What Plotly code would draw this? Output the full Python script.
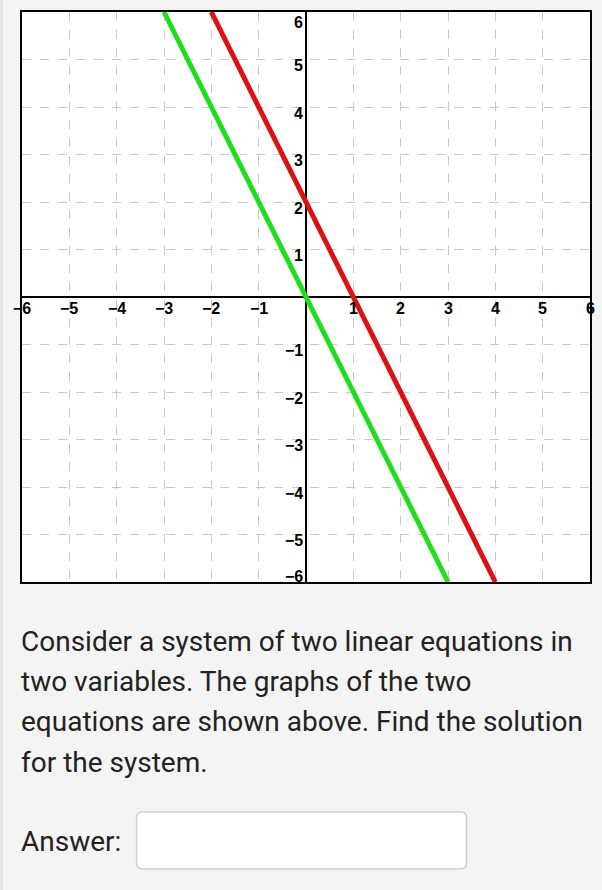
import plotly.graph_objects as go

# graph data (endpoints of each line on the grid edge)
red_x = [-2, 4]
red_y = [6, -6]
green_x = [-3, 3]
green_y = [6, -6]

tick_vals = [-6, -5, -4, -3, -2, -1, 1, 2, 3, 4, 5, 6]

question_lines = [
    "Consider a system of two linear equations in",
    "two variables. The graphs of the two",
    "equations are shown above. Find the solution",
    "for the system.",
]

W, H = 602, 890
L, R, T = 22, 10, 12
PW = W - L - R  # plot size in px (square)
B = H - T - PW


def px_x(px):
    # screen px -> paper coordinate
    return (px - L) / PW


def px_y(py):
    return (H - B - py) / PW


fig = go.Figure()
fig.add_trace(go.Scatter(x=green_x, y=green_y, mode="lines",
                         line=dict(color="#22dc22", width=5), showlegend=False))
fig.add_trace(go.Scatter(x=red_x, y=red_y, mode="lines",
                         line=dict(color="#da1212", width=5), showlegend=False))

tick_font = dict(family="Liberation Sans", size=16, color="black", weight="bold")
for v in tick_vals:
    lab = "\u2212" + str(-v) if v < 0 else str(v)
    # x axis labels under the x axis
    fig.add_annotation(x=v, y=0, text=lab, showarrow=False,
                       xanchor="center", yanchor="top", yshift=-1, font=tick_font)
    # y axis labels left of the y axis
    ys = -6
    if v == 6:
        ys = -10
    if v == -6:
        ys = 6
    fig.add_annotation(x=0, y=v, text=lab, showarrow=False,
                       xanchor="right", yanchor="middle",
                       xshift=-1, yshift=ys, font=tick_font)

line_centers = [641, 681, 721, 762]
for txt, cy in zip(question_lines, line_centers):
    fig.add_annotation(xref="paper", yref="paper", x=px_x(19), y=px_y(cy),
                       text=txt, showarrow=False, xanchor="left", yanchor="middle",
                       font=dict(family="Roboto", size=28, color="#222222"))
fig.add_annotation(xref="paper", yref="paper", x=px_x(19), y=px_y(841),
                   text="Answer:", showarrow=False, xanchor="left", yanchor="middle",
                   font=dict(family="Roboto", size=28, color="#222222"))

# answer box with rounded corners
x0, x1, y0, y1, r = px_x(137), px_x(468), px_y(812), px_y(869), 6 / PW
box = (f"M {x0 + r},{y0} L {x1 - r},{y0} Q {x1},{y0} {x1},{y0 - r} "
       f"L {x1},{y1 + r} Q {x1},{y1} {x1 - r},{y1} L {x0 + r},{y1} "
       f"Q {x0},{y1} {x0},{y1 + r} L {x0},{y0 - r} Q {x0},{y0} {x0 + r},{y0} Z")
fig.add_shape(type="path", xref="paper", yref="paper", path=box,
              fillcolor="white", line=dict(color="#cfcfcf", width=1.5))
# slightly darker strip on the left page edge
fig.add_shape(type="rect", xref="paper", yref="paper", x0=px_x(0), x1=px_x(3),
              y0=px_y(H), y1=px_y(0), fillcolor="#e6e6e6", line=dict(width=0),
              layer="below")

axis_common = dict(range=[-6, 6], dtick=1, showticklabels=False,
                   showgrid=True, gridcolor="#c8c8c8", gridwidth=1, griddash="dash",
                   zeroline=True, zerolinecolor="black", zerolinewidth=1.5,
                   showline=True, linecolor="black", linewidth=1.5, mirror=True,
                   fixedrange=True)
fig.update_xaxes(**axis_common)
fig.update_yaxes(**axis_common)

fig.update_layout(
    width=W, height=H,
    margin=dict(l=L, r=R, t=T, b=B),
    paper_bgcolor="#f4f4f4",
    plot_bgcolor="white",
)

# drop the default body margin so the figure fills the window
fig.write_html("out.html", config={"displayModeBar": False},
               post_script="document.body.style.margin='0';"
                           "document.body.style.background='#f4f4f4';")
